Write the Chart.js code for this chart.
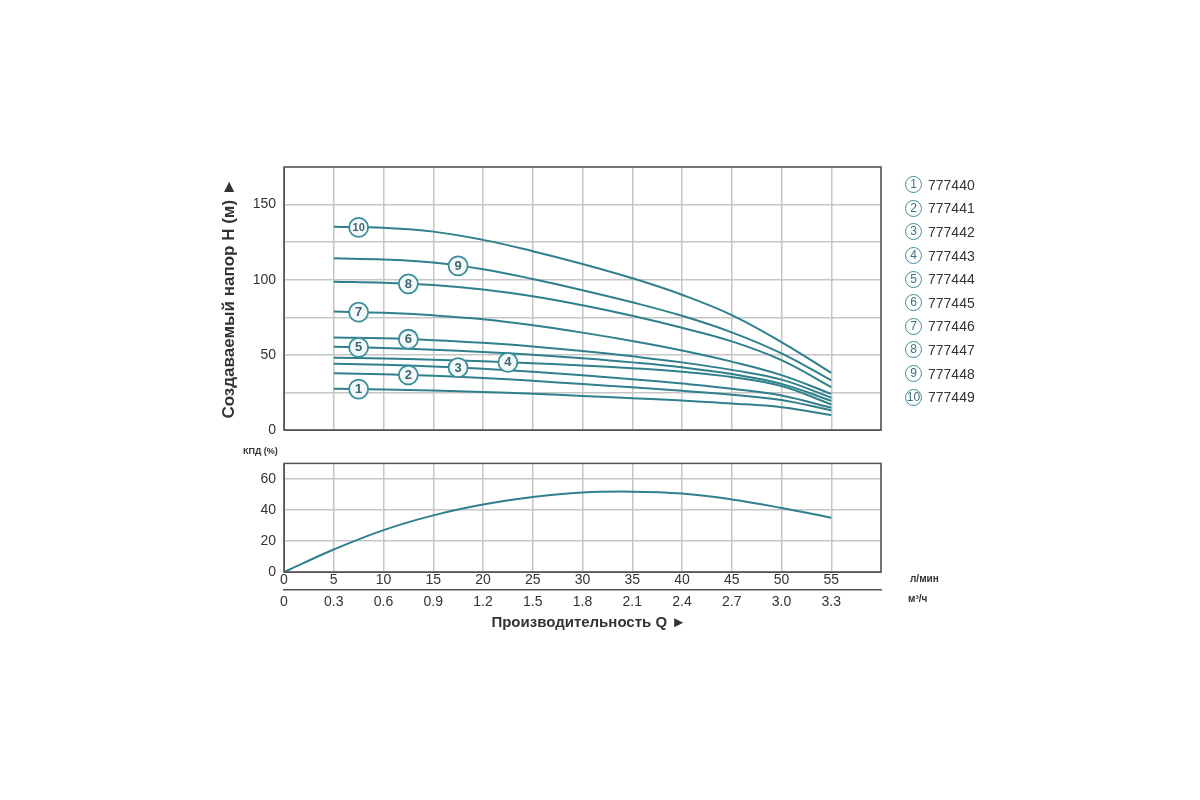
<!DOCTYPE html>
<html>
<head>
<meta charset="utf-8">
<script src="https://cdn.jsdelivr.net/npm/chart.js@4"></script>
<style>
  body { margin: 0; background: #fff; width: 1200px; height: 800px; position: relative; overflow: hidden;
         font-family: 'Liberation Sans', Arial, sans-serif; }
  #headBox { position: absolute; left: 0; top: 150px; width: 1200px; height: 300px; }
  #effBox { position: absolute; left: 0; top: 447px; width: 1200px; height: 203px; }
  .note { position: absolute; font-weight: bold; color: #333; }
  #legend { position: absolute; left: 905px; top: 173px; }
  .item { height: 23.6px; display: flex; align-items: center; }
  .num { width: 15px; height: 15px; border: 1.6px solid #3b8e9a; border-radius: 50%; color: #3f6f78;
         font-size: 12px; line-height: 15px; text-align: center; }
  .code { margin-left: 6px; font-size: 14px; color: #333; }
</style>
</head>
<body>
<div id="headBox"><canvas id="headChart"></canvas></div>
<div id="effBox"><canvas id="effChart"></canvas></div>
<div id="legend"></div>
<div class="note" style="left:243px; top:446px; font-size:9px;">КПД (%)</div>
<div class="note" style="left:910px; top:573px; font-size:10px;">л/мин</div>
<div class="note" style="left:908px; top:593px; font-size:10px;">м³/ч</div>
<script>
// Подача, л/мин (точки кривых напора)
const qLpm = [5, 10, 15, 20, 25, 30, 35, 40, 45, 50, 55];

// Напор H (м) для каждой модели
const h1 = [27.5, 27, 26.3, 25.3, 24.1, 22.7, 21.2, 19.6, 17.7, 15.2, 10];
const h2 = [37.7, 37.1, 36.1, 34.6, 32.7, 30.6, 28.4, 26.1, 23.5, 20, 13];
const h3 = [44, 43.4, 42.3, 40.7, 38.7, 36.4, 33.8, 30.9, 27.5, 23, 14.8];
const h4 = [48, 47.6, 46.8, 45.7, 44.4, 42.9, 41.1, 38.8, 35.3, 29.3, 17];
const h5 = [55.4, 54.6, 53.4, 51.9, 50, 47.7, 45, 41.7, 37.2, 30.7, 19.4];
const h6 = [61.5, 61, 59.8, 58, 55.5, 52.5, 49, 45, 40, 33.5, 21.5];
const h7 = [78.8, 78, 76.3, 73.7, 69.7, 64.8, 59.2, 52.9, 45.5, 36.5, 24];
const h8 = [98.7, 98, 96.5, 93.5, 89, 83, 76, 68, 59, 46.5, 28.5];
const h9 = [114.2, 113.5, 111.5, 107, 100.5, 93, 85, 76, 65, 51, 33];
const h10 = [135.2, 134.5, 132, 126.5, 119, 110.5, 101, 90, 76.5, 58.5, 38];
const headCurves = [h1, h2, h3, h4, h5, h6, h7, h8, h9, h10];

// Модели и место номера на кривой (л/мин)
const models = ['777440', '777441', '777442', '777443', '777444', '777445', '777446', '777447', '777448', '777449'];
const markerQ = [7.5, 12.5, 17.5, 22.5, 7.5, 12.5, 7.5, 12.5, 17.5, 7.5];

// КПД (%)
const qEff = [0, 5, 10, 15, 20, 25, 30, 35, 40, 45, 50, 55];
const eff = [0, 14.5, 27, 36.5, 43.5, 48.3, 51.2, 51.8, 50.6, 46.8, 41.3, 35];

// Подписи осей
const lpmTicks = ['0', '5', '10', '15', '20', '25', '30', '35', '40', '45', '50', '55', ''];
const m3Ticks = ['0', '0.3', '0.6', '0.9', '1.2', '1.5', '1.8', '2.1', '2.4', '2.7', '3.0', '3.3', ''];

const teal = '#2f808c';
const gridCol = '#c6c6c6';
const tickFont = { family: "'Liberation Sans', Arial", size: 14 };

// Легенда
const legend = document.getElementById('legend');
models.forEach((m, i) => {
    legend.innerHTML += `<div class="item"><div class="num">${i + 1}</div><div class="code">${m}</div></div>`;
});

function valueAt(series, q) {
    for (let i = 0; i < qLpm.length - 1; i++) {
        if (q >= qLpm[i] && q <= qLpm[i + 1]) {
            const t = (q - qLpm[i]) / (qLpm[i + 1] - qLpm[i]);
            return series[i] + (series[i + 1] - series[i]) * t;
        }
    }
    return series[series.length - 1];
}

// Рамка вокруг графика
const framePlugin = {
    id: 'frame',
    afterDraw(chart) {
        const a = chart.chartArea;
        const ctx = chart.ctx;
        ctx.save();
        ctx.strokeStyle = '#555';
        ctx.lineWidth = 1.5;
        ctx.strokeRect(a.left, a.top, a.right - a.left, a.bottom - a.top);
        ctx.restore();
    }
};

// Номера моделей на кривых
const markerPlugin = {
    id: 'markers',
    afterDatasetsDraw(chart) {
        const ctx = chart.ctx;
        const xs = chart.scales.x, ys = chart.scales.y;
        ctx.save();
        headCurves.forEach((c, i) => {
            const px = xs.getPixelForValue(markerQ[i]);
            const py = ys.getPixelForValue(valueAt(c, markerQ[i]));
            ctx.beginPath();
            ctx.arc(px, py, 9.5, 0, Math.PI * 2);
            ctx.fillStyle = '#f3f9fa';
            ctx.fill();
            ctx.lineWidth = 1.8;
            ctx.strokeStyle = '#3b8e9a';
            ctx.stroke();
            ctx.fillStyle = '#3d6670';
            ctx.font = (i === 9 ? 'bold 11px' : 'bold 13px') + " 'Liberation Sans', Arial";
            ctx.textAlign = 'center';
            ctx.textBaseline = 'middle';
            ctx.fillText(String(i + 1), px, py + 0.5);
        });
        ctx.restore();
    }
};

new Chart(document.getElementById('headChart'), {
    type: 'line',
    data: {
        datasets: headCurves.map((c, i) => ({
            label: models[i],
            data: qLpm.map((q, j) => ({ x: q, y: c[j] })),
            borderColor: teal,
            borderWidth: 2,
            pointRadius: 0,
            tension: 0.4
        }))
    },
    options: {
        responsive: true,
        maintainAspectRatio: false,
        animation: false,
        layout: { padding: { left: 219, right: 319, top: 17, bottom: 20 } },
        plugins: { legend: { display: false }, tooltip: { enabled: false } },
        scales: {
            x: {
                type: 'linear', min: 0, max: 60,
                ticks: { display: false, stepSize: 5 },
                grid: { color: gridCol, lineWidth: 1.5, drawTicks: false },
                border: { color: '#555' },
                afterFit: s => { s.height = 0; }
            },
            y: {
                min: 0, max: 175,
                ticks: {
                    stepSize: 25, padding: 8, color: '#333', font: tickFont,
                    callback: v => (v % 50 === 0 ? v : '')
                },
                grid: { color: gridCol, lineWidth: 1.5, drawTicks: false },
                border: { color: '#555' },
                title: {
                    display: true, text: 'Создаваемый напор H (м) ►', color: '#333',
                    font: { family: "'Liberation Sans', Arial", size: 17, weight: 'bold' }, padding: 0
                },
                afterFit: s => { s.width = 65; }
            }
        }
    },
    plugins: [framePlugin, markerPlugin]
});

new Chart(document.getElementById('effChart'), {
    type: 'line',
    data: {
        datasets: [{
            label: 'КПД',
            data: qEff.map((q, j) => ({ x: q, y: eff[j] })),
            borderColor: teal,
            borderWidth: 2,
            pointRadius: 0,
            tension: 0.4
        }]
    },
    options: {
        responsive: true,
        maintainAspectRatio: false,
        animation: false,
        layout: { padding: { left: 219, right: 319, top: 10, bottom: 0 } },
        plugins: { legend: { display: false }, tooltip: { enabled: false } },
        scales: {
            x: {
                type: 'linear', min: 0, max: 60,
                ticks: {
                    stepSize: 5, padding: 0, color: '#333', font: tickFont, maxRotation: 0,
                    callback: (v, i) => lpmTicks[i]
                },
                grid: { color: gridCol, lineWidth: 1.5, drawTicks: false },
                border: { color: '#555' },
                afterFit: s => { s.height = 18; }
            },
            x2: {
                type: 'linear', position: 'bottom', min: 0, max: 60,
                ticks: {
                    stepSize: 5, padding: 4, color: '#333', font: tickFont, maxRotation: 0,
                    callback: (v, i) => m3Ticks[i]
                },
                grid: { display: false, drawTicks: false },
                border: { display: true, color: '#555', width: 1.5 },
                title: {
                    display: true, text: '   Производительность Q ►', color: '#333',
                    font: { family: "'Liberation Sans', Arial", size: 15, weight: 'bold' },
                    padding: { top: 4, bottom: 18 }
                },
                afterFit: s => { s.height = 60; }
            },
            y: {
                min: 0, max: 70,
                ticks: {
                    stepSize: 10, padding: 8, color: '#333', font: tickFont,
                    callback: v => (v % 20 === 0 ? v : '')
                },
                grid: { color: gridCol, lineWidth: 1.5, drawTicks: false },
                border: { color: '#555' },
                afterFit: s => { s.width = 65; }
            }
        }
    },
    plugins: [framePlugin]
});
</script>
</body>
</html>
